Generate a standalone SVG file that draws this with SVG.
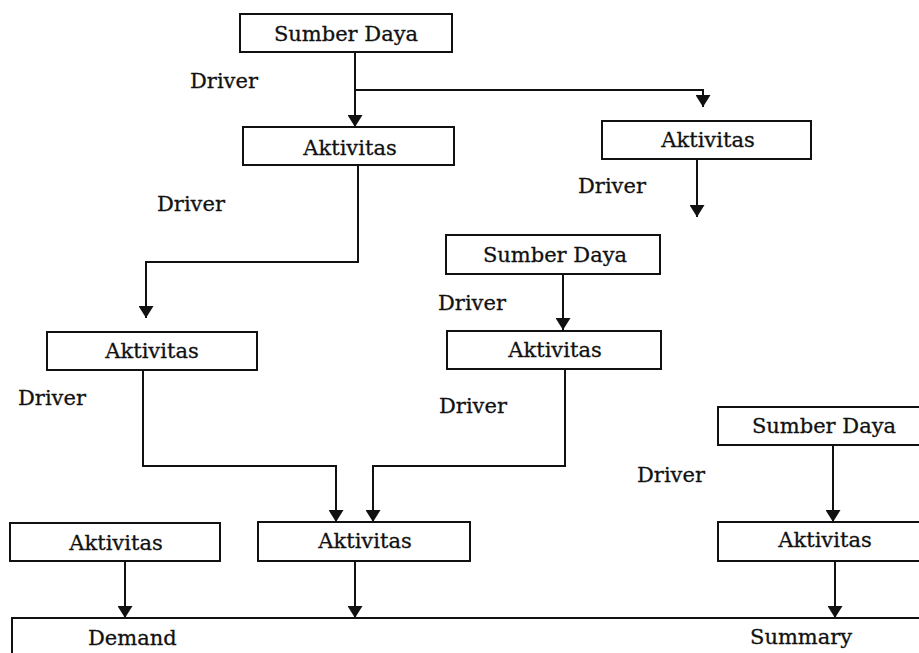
<svg xmlns="http://www.w3.org/2000/svg" width="919" height="653" viewBox="0 0 919 653">
  <style>
    .box { fill: #ffffff; stroke: #111111; stroke-width: 2; }
    .lbl { font-family: "DejaVu Serif", "Liberation Serif", serif; font-size: 21px; fill: #111111; stroke: #111111; stroke-width: 0.3; text-anchor: middle; }
    .drv { font-family: "DejaVu Serif", "Liberation Serif", serif; font-size: 21px; fill: #111111; stroke: #111111; stroke-width: 0.3; }
    .wire { fill: none; stroke: #111111; stroke-width: 2; }
  </style>
  <defs>
    <marker id="arrow" viewBox="0 0 12 15" refX="12" refY="7.5" markerWidth="12" markerHeight="15" markerUnits="userSpaceOnUse" orient="auto">
      <path d="M0,0 L12,7.5 L0,15 z" fill="#111111"/>
    </marker>
  </defs>
  <rect width="919" height="653" fill="#ffffff"/>

  <!-- connectors -->
  <g id="connectors" class="wire" marker-end="url(#arrow)">
    <path d="M355,52 V127"/>
    <path d="M355,90 H703 V107"/>
    <path d="M697,159 V217"/>
    <path d="M358,165 V262 H146 V318"/>
    <path d="M563,274 V330"/>
    <path d="M143,370 V466 H336 V522"/>
    <path d="M565,369 V466 H373 V522"/>
    <path d="M833,445 V522"/>
    <path d="M125,561 V618"/>
    <path d="M355,561 V618"/>
    <path d="M835,561 V618"/>
  </g>

  <!-- driver labels -->
  <g id="drivers">
    <text class="drv" x="190" y="88">Driver</text>
    <text class="drv" x="157" y="211">Driver</text>
    <text class="drv" x="578" y="193">Driver</text>
    <text class="drv" x="438" y="310">Driver</text>
    <text class="drv" x="18" y="405">Driver</text>
    <text class="drv" x="439" y="413">Driver</text>
    <text class="drv" x="637" y="482">Driver</text>
  </g>

  <!-- nodes -->
  <g id="sumber-daya-1">
    <rect class="box" x="240" y="14" width="212" height="38"/>
    <text class="lbl" x="346" y="41">Sumber Daya</text>
  </g>
  <g id="aktivitas-1">
    <rect class="box" x="243" y="127" width="211" height="38"/>
    <text class="lbl" x="350" y="155">Aktivitas</text>
  </g>
  <g id="aktivitas-2">
    <rect class="box" x="602" y="121" width="209" height="38"/>
    <text class="lbl" x="708" y="147">Aktivitas</text>
  </g>
  <g id="sumber-daya-2">
    <rect class="box" x="446" y="235" width="214" height="39"/>
    <text class="lbl" x="555" y="262">Sumber Daya</text>
  </g>
  <g id="aktivitas-3">
    <rect class="box" x="47" y="332" width="210" height="38"/>
    <text class="lbl" x="152" y="358">Aktivitas</text>
  </g>
  <g id="aktivitas-4">
    <rect class="box" x="447" y="331" width="214" height="38"/>
    <text class="lbl" x="555" y="357">Aktivitas</text>
  </g>
  <g id="sumber-daya-3">
    <rect class="box" x="718" y="407" width="204" height="38"/>
    <text class="lbl" x="824" y="433">Sumber Daya</text>
  </g>
  <g id="aktivitas-5">
    <rect class="box" x="258" y="522" width="212" height="39"/>
    <text class="lbl" x="365" y="548">Aktivitas</text>
  </g>
  <g id="aktivitas-6">
    <rect class="box" x="718" y="522" width="204" height="39"/>
    <text class="lbl" x="825" y="547">Aktivitas</text>
  </g>
  <g id="aktivitas-7">
    <rect class="box" x="10" y="523" width="210" height="38"/>
    <text class="lbl" x="116" y="550">Aktivitas</text>
  </g>
  <g id="demand-summary">
    <path class="wire" d="M12,655 V618 H921"/>
    <text class="drv" x="88" y="645">Demand</text>
    <text class="drv" x="750" y="644">Summary</text>
  </g>
</svg>
